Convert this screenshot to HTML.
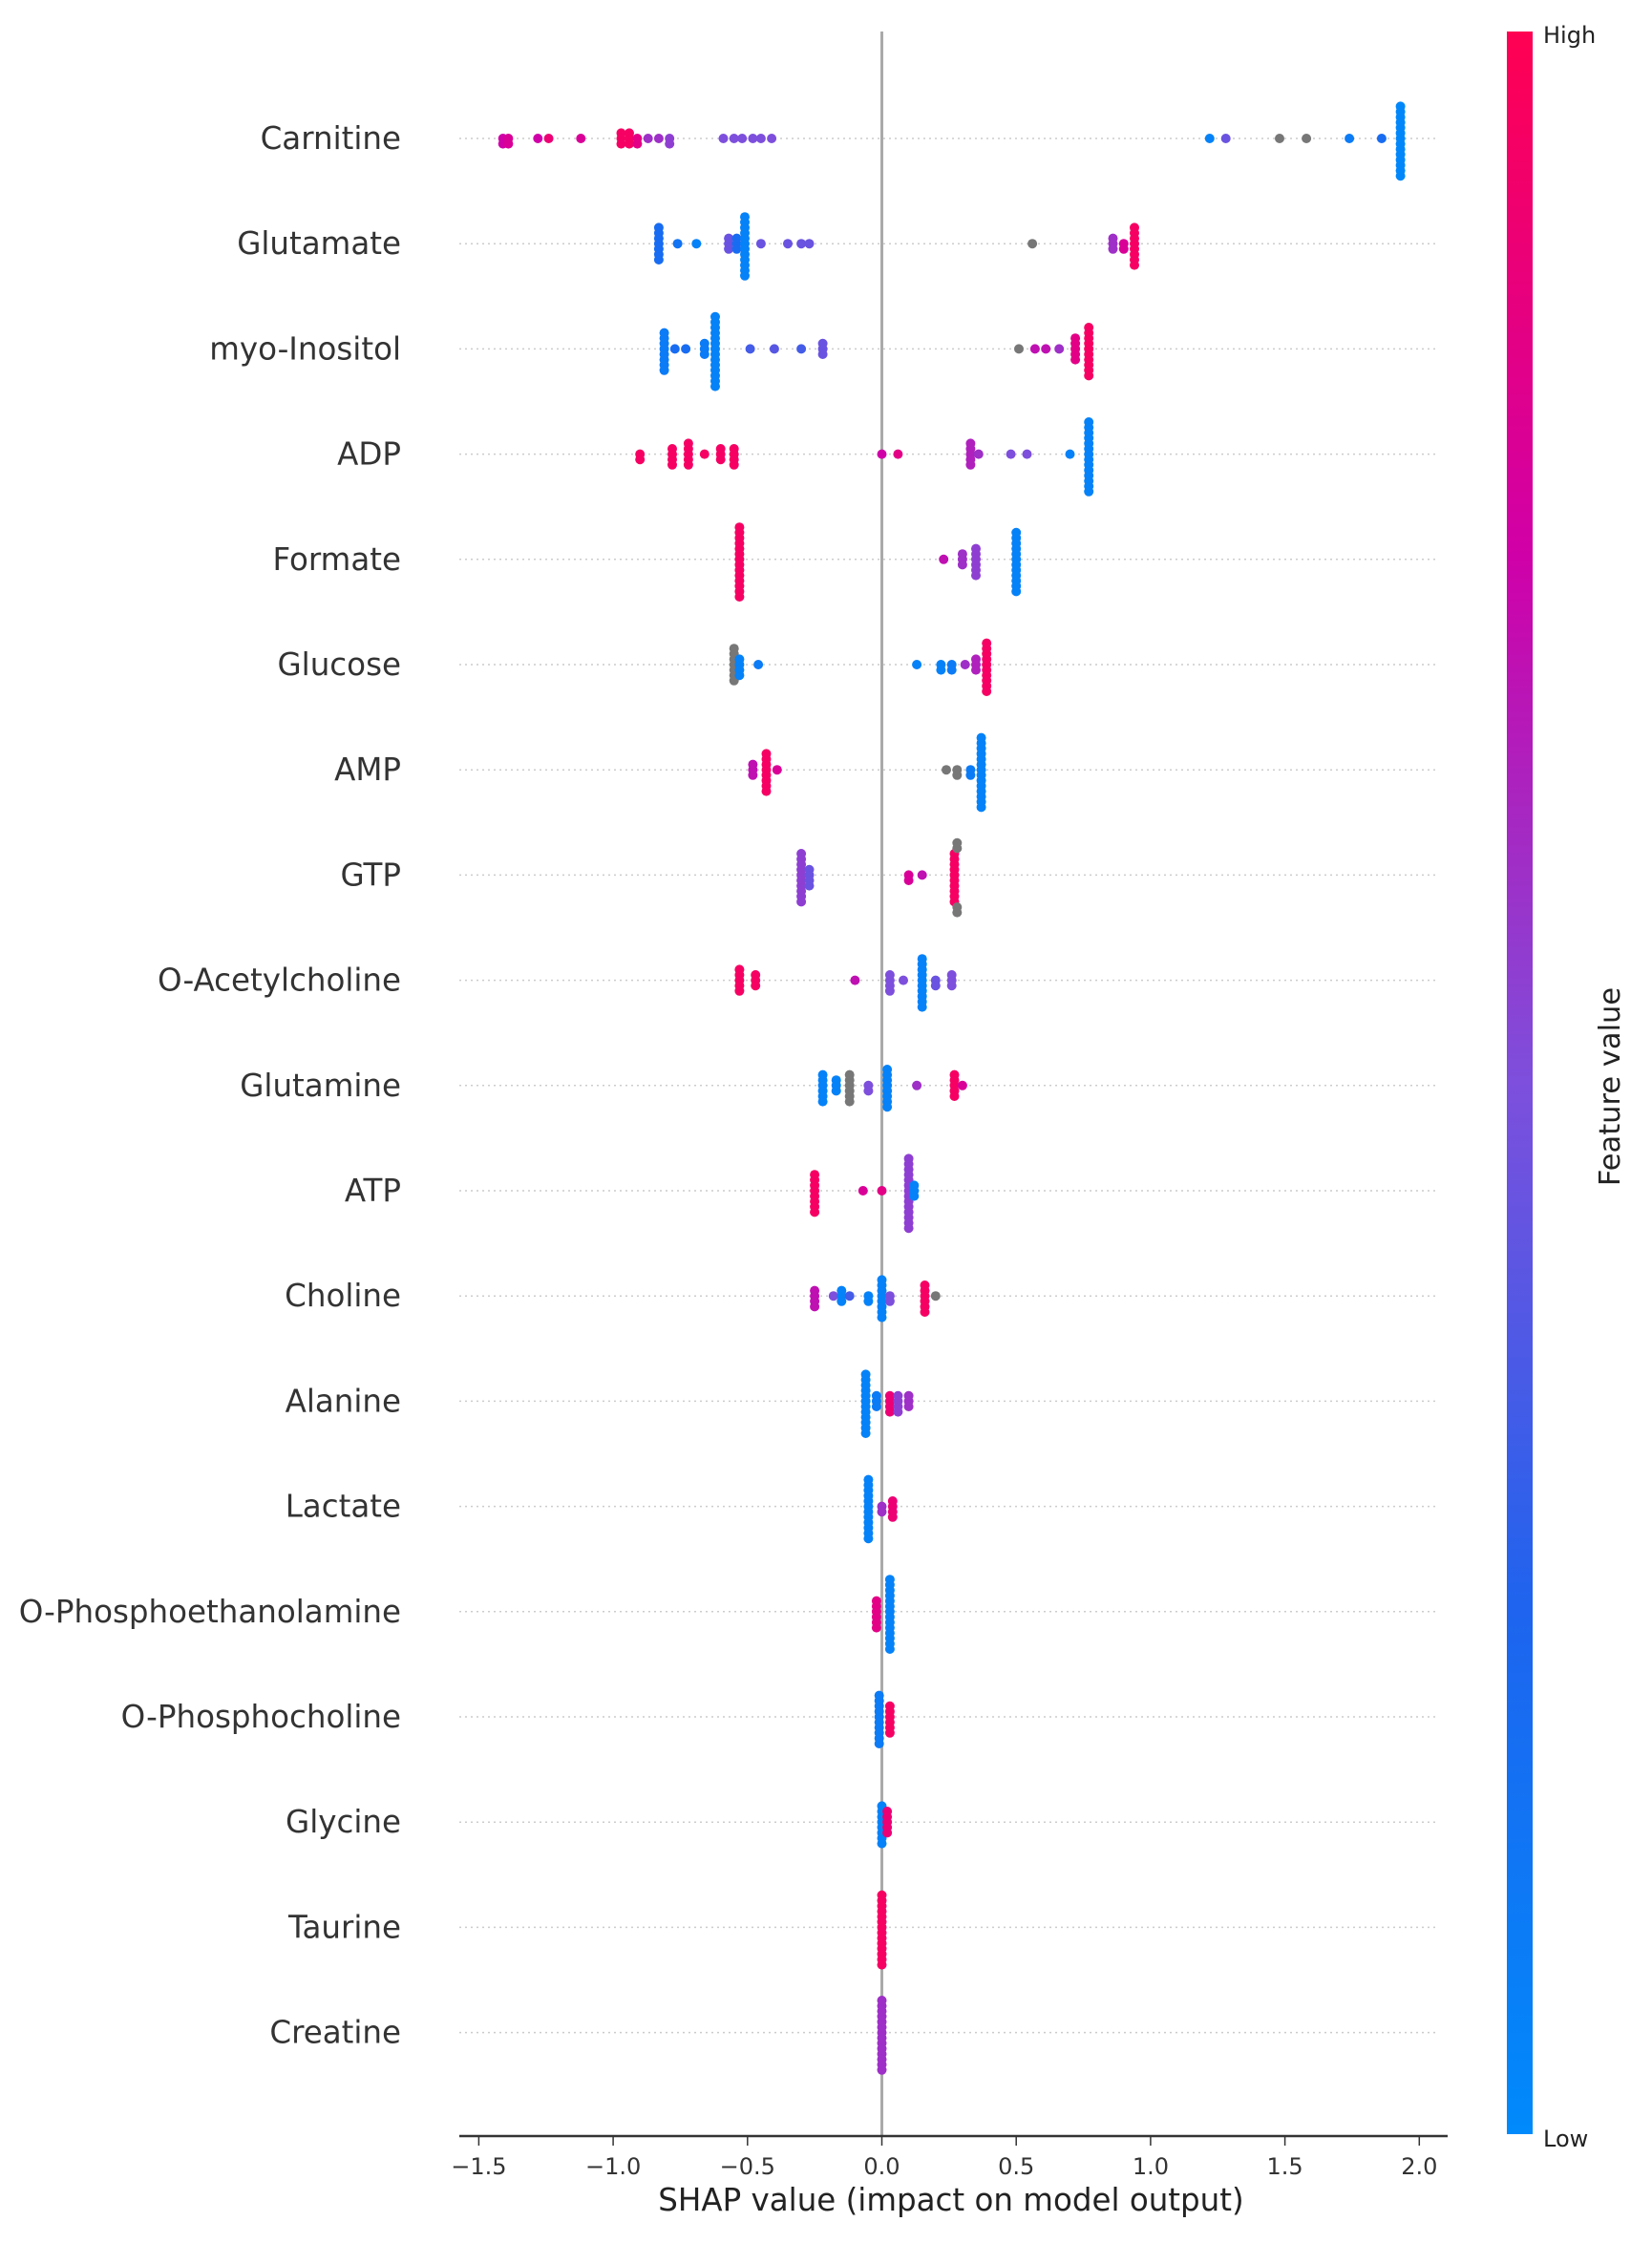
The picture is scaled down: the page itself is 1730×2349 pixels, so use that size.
<!DOCTYPE html>
<html><head><meta charset="utf-8"><style>
html,body{margin:0;padding:0;background:#fff;}
svg{display:block;font-family:"DejaVu Sans","Liberation Sans",sans-serif;}
</style></head><body>
<svg id="chart" width="1730" height="2349" viewBox="0 0 1730 2349" xmlns="http://www.w3.org/2000/svg">
<defs>
<linearGradient id="cbar" x1="0" y1="1" x2="0" y2="0">
<stop offset="0" stop-color="#008afb"/>
<stop offset="0.25" stop-color="#1e64ee"/>
<stop offset="0.5" stop-color="#7d4fdc"/>
<stop offset="0.75" stop-color="#d000a8"/>
<stop offset="1" stop-color="#ff0052"/>
</linearGradient>
</defs>
<g id="grid"></g>
<line x1="923.5" y1="33" x2="923.5" y2="2237" stroke="#aaaaaa" stroke-width="3"/>
<g id="dots"></g>
<g id="labels"></g>
<line x1="481" y1="2237" x2="1516" y2="2237" stroke="#333" stroke-width="2.5"/>
<g id="ticks"></g>
<text x="996" y="2315" text-anchor="middle" font-size="32.5" fill="#222">SHAP value (impact on model output)</text>
<rect x="1578" y="33" width="27" height="2202" fill="url(#cbar)"/>
<text x="1616" y="45" font-size="24" fill="#222">High</text>
<text x="1616" y="2248" font-size="24" fill="#222">Low</text>
<text transform="translate(1696,1138) rotate(-90)" text-anchor="middle" font-size="30.5" fill="#222">Feature value</text>
</svg>
<script>
const features = ["Carnitine","Glutamate","myo-Inositol","ADP","Formate","Glucose","AMP","GTP","O-Acetylcholine","Glutamine","ATP","Choline","Alanine","Lactate","O-Phosphoethanolamine","O-Phosphocholine","Glycine","Taurine","Creatine"];
const xTicks = [-1.5,-1.0,-0.5,0.0,0.5,1.0,1.5,2.0];
const xTickLabels = ["\u22121.5","\u22121.0","\u22120.5","0.0","0.5","1.0","1.5","2.0"];
// groups: [shapValue, featureColor (0..1, or -1 = gray/missing), count]
const carnitine = [[-1.41,0.75,2],[-1.39,0.8,2],[-1.28,0.75,1],[-1.24,0.9,1],[-1.12,0.8,1],[-0.97,0.95,3],[-0.94,0.95,3],[-0.91,0.85,2],[-0.87,0.6,1],[-0.83,0.6,1],[-0.79,0.55,2],[-0.59,0.5,1],[-0.55,0.5,1],[-0.52,0.5,1],[-0.48,0.5,1],[-0.45,0.5,1],[-0.41,0.5,1],[1.22,0.05,1],[1.28,0.45,1],[1.48,-1,1],[1.58,-1,1],[1.74,0.1,1],[1.86,0.2,1],[1.93,0.02,14]];
const glutamate = [[-0.83,0.2,7],[-0.76,0.15,1],[-0.69,0.05,1],[-0.57,0.45,3],[-0.54,0.2,3],[-0.51,0.05,12],[-0.45,0.45,1],[-0.35,0.45,1],[-0.3,0.45,1],[-0.27,0.45,1],[0.56,-1,1],[0.86,0.6,3],[0.9,0.8,2],[0.94,0.95,8]];
const myoInositol = [[-0.81,0.1,8],[-0.77,0.2,1],[-0.73,0.2,1],[-0.66,0.1,3],[-0.62,0.05,14],[-0.49,0.35,1],[-0.4,0.4,1],[-0.3,0.35,1],[-0.22,0.45,3],[0.51,-1,1],[0.57,0.7,1],[0.61,0.7,1],[0.66,0.6,1],[0.72,0.85,5],[0.77,0.95,10]];
const adp = [[-0.9,0.95,2],[-0.78,0.95,4],[-0.72,0.95,5],[-0.66,0.95,1],[-0.6,0.95,3],[-0.55,0.95,4],[0.0,0.75,1],[0.06,0.85,1],[0.33,0.65,5],[0.36,0.6,1],[0.48,0.5,1],[0.54,0.5,1],[0.7,0.05,1],[0.77,0.05,14]];
const formate = [[-0.53,0.95,14],[0.23,0.7,1],[0.3,0.6,3],[0.35,0.55,6],[0.5,0.05,12]];
const glucose = [[-0.55,-1,7],[-0.53,0.05,4],[-0.46,0.1,1],[0.13,0.05,1],[0.22,0.05,2],[0.26,0.1,2],[0.31,0.6,1],[0.35,0.65,3],[0.39,0.95,10]];
const amp = [[-0.48,0.7,3],[-0.43,0.95,8],[-0.39,0.8,1],[0.24,-1,1],[0.28,-1,2],[0.33,0.1,2],[0.37,0.05,14]];
const gtp = [[-0.3,0.55,10],[-0.27,0.45,4],[0.1,0.8,2],[0.15,0.7,1],[0.27,0.95,10],[0.28,-1,4]];
const oAcetylcholine = [[-0.53,0.95,5],[-0.47,0.95,3],[-0.1,0.7,1],[0.03,0.5,4],[0.08,0.5,1],[0.15,0.05,10],[0.2,0.45,2],[0.26,0.5,3]];
const glutamine = [[-0.22,0.05,6],[-0.17,0.05,3],[-0.12,-1,6],[-0.05,0.5,2],[0.02,0.05,8],[0.13,0.6,1],[0.27,0.95,5],[0.3,0.8,1]];
const atp = [[-0.25,0.95,8],[-0.07,0.8,1],[0.0,0.85,1],[0.1,0.55,14],[0.12,0.05,3]];
const choline = [[-0.25,0.7,4],[-0.18,0.5,1],[-0.15,0.05,3],[-0.12,0.35,1],[-0.05,0.05,2],[0.0,0.05,8],[0.03,0.5,2],[0.16,0.95,6],[0.2,-1,1]];
const alanine = [[-0.06,0.05,12],[-0.02,0.1,3],[0.03,0.9,4],[0.06,0.55,4],[0.1,0.6,3]];
const lactate = [[-0.05,0.05,12],[0.0,0.6,2],[0.04,0.9,4]];
const oPhosphoethanolamine = [[-0.02,0.85,6],[0.03,0.05,14]];
const oPhosphocholine = [[-0.01,0.1,10],[0.03,0.95,6]];
const glycine = [[0.0,0.05,8],[0.02,0.9,5]];
const taurine = [[0.0,0.95,14]];
const creatine = [[0.0,0.6,14]];
const series = [carnitine,glutamate,myoInositol,adp,formate,glucose,amp,gtp,oAcetylcholine,glutamine,atp,choline,alanine,lactate,oPhosphoethanolamine,oPhosphocholine,glycine,taurine,creatine];

const NS="http://www.w3.org/2000/svg";
const X0=923.5, UNIT=281.4, ROW0=145, ROWH=110.2;
const xScale=v=>X0+v*UNIT;
const yRow=i=>ROW0+i*ROWH;
const stops=[[0,[0,138,251]],[0.25,[30,100,238]],[0.5,[125,79,220]],[0.75,[208,0,168]],[1,[255,0,82]]];
function cmap(t){
  if(t<0) return "#777777";
  for(let k=1;k<stops.length;k++){
    if(t<=stops[k][0]){
      const a=stops[k-1],b=stops[k],f=(t-a[0])/(b[0]-a[0]);
      const c=a[1].map((v,j)=>Math.round(v+(b[1][j]-v)*f));
      return `rgb(${c[0]},${c[1]},${c[2]})`;
    }
  }
  return "rgb(255,0,82)";
}
const grid=document.getElementById('grid'), dots=document.getElementById('dots'), labels=document.getElementById('labels'), ticks=document.getElementById('ticks');
features.forEach((f,i)=>{
  const y=yRow(i);
  const gl=document.createElementNS(NS,'line');
  
  
  gl.setAttribute('x1',481);gl.setAttribute('x2',1505);gl.setAttribute('y1',y);gl.setAttribute('y2',y);
  gl.setAttribute('stroke','#cccccc');gl.setAttribute('stroke-width','1.5');gl.setAttribute('stroke-dasharray','2,4');
  grid.appendChild(gl);
  const t=document.createElementNS(NS,'text');
  
  
  t.setAttribute('x',420);t.setAttribute('y',y+11);t.setAttribute('text-anchor','end');
  t.setAttribute('font-size','32.5');t.setAttribute('fill','#333');
  t.textContent=f;labels.appendChild(t);
  const pts=[];series[i].forEach(g=>{for(let k=0;k<g[2];k++)pts.push([g[0],g[1]]);});
  const bins={};
  pts.forEach(p=>{
    const b=Math.round(xScale(p[0])/8);
    const n=bins[b]||0;bins[b]=n+1;
    const off=(n%2?1:-1)*Math.ceil(n/2)*5.6;
    const c=document.createElementNS(NS,'circle');
    
    
    c.setAttribute('cx',xScale(p[0]).toFixed(1));c.setAttribute('cy',(y+off).toFixed(1));
    c.setAttribute('r','5');c.setAttribute('fill',cmap(p[1]));
    dots.appendChild(c);
  });
});
xTicks.forEach((v,k)=>{
  const x=xScale(v);
  const l=document.createElementNS(NS,'line');
  
  
  l.setAttribute('x1',x);l.setAttribute('x2',x);l.setAttribute('y1',2237);l.setAttribute('y2',2247);
  l.setAttribute('stroke','#333');l.setAttribute('stroke-width','1.5');
  ticks.appendChild(l);
  const t=document.createElementNS(NS,'text');
  
  
  t.setAttribute('x',x);t.setAttribute('y',2277);t.setAttribute('text-anchor','middle');
  t.setAttribute('font-size','24');t.setAttribute('fill','#333');
  t.textContent=xTickLabels[k];ticks.appendChild(t);
});
</script>
</body></html>
